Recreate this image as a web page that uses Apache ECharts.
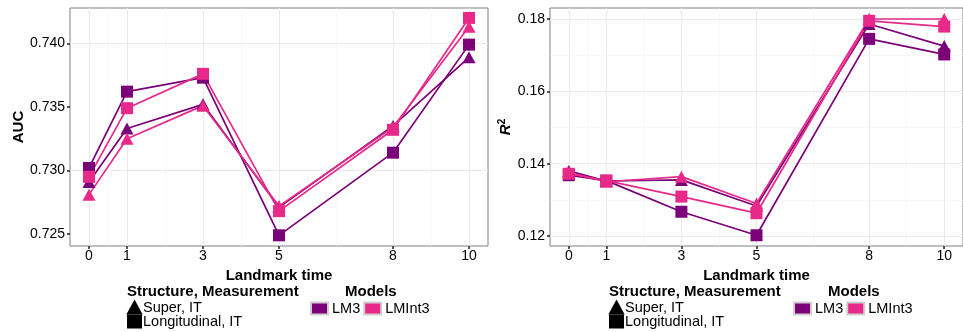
<!DOCTYPE html>
<html>
<head>
<meta charset="utf-8">
<script src="https://cdn.jsdelivr.net/npm/echarts@6/dist/echarts.min.js"></script>
<style>html,body{margin:0;padding:0;background:#fff}#c{width:963px;height:332px}</style>
</head>
<body>
<div id="c"></div>
<script>
// ---- data ----
var landmarks = [0, 1, 3, 5, 8, 10];
var xMajor = [0, 1, 3, 5, 8, 10];
var xMinor = [0.5, 2, 4, 6.5, 9];
var aucTicks = [0.725, 0.730, 0.735, 0.740];
var aucMinor = [0.7275, 0.7325, 0.7375, 0.7425];
var r2Ticks = [0.12, 0.14, 0.16, 0.18];
var r2Minor = [0.13, 0.15, 0.17];

var aucLM3Super    = [0.7291, 0.7333, 0.7352, 0.7271, 0.7335, 0.7389];
var aucLM3Long     = [0.7302, 0.7362, 0.7373, 0.7249, 0.7314, 0.7399];
var aucLMInt3Super = [0.7281, 0.7325, 0.7351, 0.7272, 0.7334, 0.7413];
var aucLMInt3Long  = [0.7295, 0.7349, 0.7376, 0.7268, 0.7332, 0.7420];

var r2LM3Super     = [0.1380, 0.1352, 0.1355, 0.1283, 0.1786, 0.1725];
var r2LM3Long      = [0.1368, 0.1353, 0.1267, 0.1202, 0.1745, 0.1702];
var r2LMInt3Super  = [0.1375, 0.1350, 0.1364, 0.1290, 0.1800, 0.1800];
var r2LMInt3Long   = [0.1372, 0.1353, 0.1309, 0.1263, 0.1795, 0.1779];

var structNames = ['Super, IT', 'Longitudinal, IT'];
var structIcons = ['triangle', 'rect'];
var modelNames = ['LM3', 'LMInt3'];

var PURPLE = '#7A0177', PINK = '#E7298A';
var FONT = 'Liberation Sans, Arial, sans-serif';

function pairs(ys) { return landmarks.map(function (x, i) { return [x, ys[i]]; }); }

function dataSeries(name, ys, color, symbol, gi) {
  return {
    name: name, type: 'line', xAxisIndex: gi, yAxisIndex: gi,
    data: pairs(ys), symbol: symbol,
    symbolSize: symbol === 'triangle' ? [13, 12] : 12,
    itemStyle: { color: color }, lineStyle: { color: color, width: 1.7 },
    z: 5, silent: true, animation: false
  };
}

function gridSeries(gi, xs, ys, color, width) {
  var d = [];
  xs.forEach(function (v) { d.push({ xAxis: v }); });
  ys.forEach(function (v) { d.push({ yAxis: v }); });
  return {
    type: 'line', xAxisIndex: gi, yAxisIndex: gi, data: [], z: 1, silent: true,
    markLine: { silent: true, symbol: 'none', label: { show: false }, animation: false,
      lineStyle: { color: color, width: width, type: 'solid' }, emphasis: { disabled: true }, data: d }
  };
}

function xAxis(gi) {
  return {
    type: 'value', gridIndex: gi, min: -0.5, max: 10.5,
    name: 'Landmark time', nameLocation: 'middle', nameGap: 17,
    nameTextStyle: { fontFamily: FONT, fontSize: 15, fontWeight: 'bold', color: '#000' },
    axisLine: { show: false, onZero: false }, splitLine: { show: false },
    axisTick: { show: true, customValues: xMajor, length: 3, lineStyle: { color: '#222', width: 1.5 } },
    axisLabel: { customValues: xMajor, fontFamily: FONT, fontSize: 14, color: '#000', margin: 3 }
  };
}

function yAxis(gi, min, max, ticks, dec, name, gap) {
  return {
    type: 'value', gridIndex: gi, min: min, max: max,
    name: name, nameLocation: 'middle', nameGap: gap, nameRotate: 90,
    nameTextStyle: { fontFamily: FONT, fontSize: 15, fontWeight: 'bold', color: '#000',
      rich: { i: { fontFamily: FONT, fontSize: 15, fontStyle: 'italic', color: '#000' },
              s: { fontFamily: FONT, fontSize: 10, color: '#000', verticalAlign: 'bottom', padding: [0, 0, 9, 0] } } },
    axisLine: { show: false, onZero: false }, splitLine: { show: false },
    axisTick: { show: true, customValues: ticks, length: 3, lineStyle: { color: '#222', width: 1.5 } },
    axisLabel: { customValues: ticks, fontFamily: FONT, fontSize: 14, color: '#000', margin: 5,
      formatter: function (v) { return v.toFixed(dec); } }
  };
}

function legendSet(structLeft, modelsLeft) {
  var out = structNames.map(function (n, i) {
    return { orient: 'horizontal', left: structLeft, top: 300 + i * 14, padding: 0, itemWidth: 13, itemHeight: 12,
      selectedMode: false, textStyle: { fontFamily: FONT, fontSize: 14.5, color: '#000', padding: [0, 0, 0, -3] },
      data: [{ name: n, icon: structIcons[i] }] };
  });
  out.push({ orient: 'horizontal', left: modelsLeft, top: 301, padding: 0, itemGap: 3, itemWidth: 17, itemHeight: 12,
    selectedMode: false, textStyle: { fontFamily: FONT, fontSize: 14.5, color: '#000', padding: [0, 0, 0, -1] },
    data: modelNames.map(function (n) { return { name: n, icon: 'rect' }; }) });
  return out;
}

function legendDummy(name, color, gi) {
  return { name: name, type: 'line', xAxisIndex: gi, yAxisIndex: gi, data: [],
    itemStyle: { color: color, borderColor: (color === '#000' ? color : '#cfcfcf'), borderWidth: 1 },
    lineStyle: { color: color } };
}

var titleStyle = { fontFamily: FONT, fontSize: 15, fontWeight: 'bold', color: '#000' };

var option = {
  animation: false,
  backgroundColor: '#fff',
  textStyle: { fontFamily: FONT },
  title: [
    { text: 'Structure, Measurement', left: 127, top: 284, padding: 0, textStyle: titleStyle },
    { text: 'Models', left: 345, top: 284, padding: 0, textStyle: titleStyle },
    { text: 'Structure, Measurement', left: 609, top: 284, padding: 0, textStyle: titleStyle },
    { text: 'Models', left: 828, top: 284, padding: 0, textStyle: titleStyle }
  ],
  grid: [
    { left: 70, top: 8, width: 418, height: 238, show: true, borderColor: '#808080', borderWidth: 1, backgroundColor: '#fff' },
    { left: 550, top: 8, width: 423, height: 238, show: true, borderColor: '#808080', borderWidth: 1, backgroundColor: '#fff' }
  ],
  legend: legendSet(127, 310).concat(legendSet(609, 793)),
  xAxis: [xAxis(0), xAxis(1)],
  yAxis: [
    yAxis(0, 0.72406, 0.74278, aucTicks, 3, 'AUC', 43),
    yAxis(1, 0.11723, 0.18304, r2Ticks, 2, '{i|R}{s|2}', 33)
  ],
  series: [
    gridSeries(0, xMinor, aucMinor, '#F4F4F4', 0.6),
    gridSeries(0, xMajor, aucTicks, '#EBEBEB', 1),
    gridSeries(1, xMinor, r2Minor, '#F4F4F4', 0.6),
    gridSeries(1, xMajor, r2Ticks, '#EBEBEB', 1),
    dataSeries('LM3 Super, IT', aucLM3Super, PURPLE, 'triangle', 0),
    dataSeries('LM3 Longitudinal, IT', aucLM3Long, PURPLE, 'rect', 0),
    dataSeries('LMInt3 Super, IT', aucLMInt3Super, PINK, 'triangle', 0),
    dataSeries('LMInt3 Longitudinal, IT', aucLMInt3Long, PINK, 'rect', 0),
    dataSeries('R2 LM3 Super, IT', r2LM3Super, PURPLE, 'triangle', 1),
    dataSeries('R2 LM3 Longitudinal, IT', r2LM3Long, PURPLE, 'rect', 1),
    dataSeries('R2 LMInt3 Super, IT', r2LMInt3Super, PINK, 'triangle', 1),
    dataSeries('R2 LMInt3 Longitudinal, IT', r2LMInt3Long, PINK, 'rect', 1),
    legendDummy(structNames[0], '#000', 0),
    legendDummy(structNames[1], '#000', 0),
    legendDummy(modelNames[0], PURPLE, 0),
    legendDummy(modelNames[1], PINK, 0)
  ]
};

var chart = echarts.init(document.getElementById('c'), null, { renderer: 'canvas' });
chart.setOption(option);
</script>
</body>
</html>
